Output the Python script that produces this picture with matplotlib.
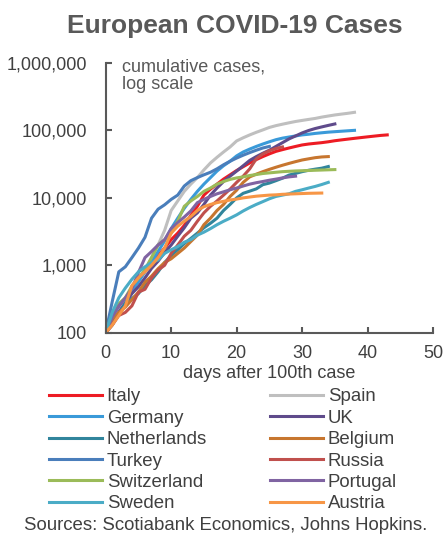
import matplotlib
matplotlib.use("Agg")
import matplotlib.pyplot as plt
from matplotlib.ticker import FuncFormatter

plt.rcParams['font.family'] = ['Liberation Sans', 'DejaVu Sans']

# cumulative cases, one value per day after the 100th case
italy = [100, 150, 220, 310, 420, 600, 820, 1050, 1400, 1800, 2400, 3000, 3900, 5500,
         7500, 11000, 13500, 16000, 19000, 22000, 25500, 29000, 33000, 37000, 41000,
         45000, 49000, 52000, 55000, 58000, 61000, 63000, 64500, 66000, 68000, 70500,
         72500, 74500, 76500, 78500, 80500, 82500, 84500, 86000]
spain = [100, 150, 210, 280, 420, 600, 850, 1300, 2000, 3300, 6500, 9000, 12500, 16000,
         20000, 26000, 33000, 40000, 48000, 57000, 70000, 78000, 86000, 94000, 102000,
         111000, 118000, 124000, 130000, 136000, 141000, 146000, 151000, 158000, 164000,
         170000, 175000, 180000, 186000]
germany = [100, 150, 200, 280, 400, 570, 800, 1100, 1600, 2300, 3500, 5000, 7000, 9500,
           12500, 16000, 20000, 25000, 30000, 35000, 42000, 48000, 53000, 58000, 63000,
           68000, 73000, 77000, 80000, 83000, 86000, 88000, 90500, 92500, 94500, 96000,
           97500, 99000, 100500]
uk = [100, 140, 200, 270, 380, 480, 650, 900, 1150, 1550, 2000, 2700, 3600, 5000, 6000,
      8000, 11000, 14000, 17500, 21000, 25000, 30000, 36000, 41000, 46000, 51000, 58000,
      66000, 75000, 83000, 92000, 100000, 107000, 113000, 119000, 125000]
netherlands = [100, 130, 190, 270, 320, 380, 500, 610, 800, 1100, 1400, 1700, 2100, 2500,
               3000, 3600, 4200, 5000, 6500, 8000, 10000, 11700, 12600, 13600, 15700,
               16600, 18000, 19600, 21800, 23100, 24500, 25700, 26700, 27600, 29200]
belgium = [100, 160, 200, 240, 310, 400, 560, 690, 890, 1100, 1250, 1500, 1800, 2250,
           2800, 4000, 5000, 6500, 8000, 10500, 13000, 17000, 20500, 22500, 24500, 26500,
           28500, 30500, 32500, 34500, 36500, 38000, 39500, 40500, 41000]
turkey = [100, 290, 800, 950, 1300, 1800, 2600, 5000, 6800, 7900, 9500, 11000, 15000,
          18000, 20000, 22000, 24000, 27000, 31000, 35000, 39000, 43000, 47000, 51000,
          55000, 58000]
russia = [100, 130, 180, 200, 250, 400, 440, 650, 850, 1000, 1500, 2000, 2700, 3300,
          4500, 6000, 7500, 9000, 11000, 13500, 17000, 21000, 27000, 38000, 45000, 50000,
          54000, 57000]
switzerland = [100, 190, 270, 330, 490, 650, 860, 1300, 2000, 2400, 3000, 4500, 7500,
               9000, 10500, 12500, 14000, 16000, 17500, 18800, 19800, 20500, 21500, 22200,
               23000, 23500, 24000, 24500, 24800, 25100, 25300, 25500, 25700, 25900,
               26100, 26300]
portugal = [100, 170, 250, 330, 450, 780, 1300, 1600, 2000, 2400, 3500, 4300, 5200, 6400,
            8500, 9500, 10500, 11500, 12300, 13200, 14000, 15000, 16000, 16800, 17500,
            18300, 19000, 19800, 20500, 21000]
sweden = [100, 200, 330, 460, 620, 800, 950, 1100, 1200, 1500, 1700, 1900, 2200, 2400,
          2800, 3100, 3500, 4000, 4500, 5000, 5600, 6400, 7200, 8000, 8800, 9700, 10500,
          11000, 11500, 12500, 13200, 14000, 14800, 15800, 17000]
austria = [100, 130, 180, 250, 500, 650, 800, 1000, 1300, 1800, 3000, 3800, 4500, 5300,
           6500, 7400, 8000, 8500, 8900, 9300, 9600, 10000, 10300, 10600, 10800, 11000,
           11100, 11300, 11400, 11500, 11600, 11700, 11750, 11800]

series = [
    ("Italy", italy, "#ED1C24"),
    ("Spain", spain, "#BFBFBF"),
    ("Germany", germany, "#3A9AD9"),
    ("UK", uk, "#5F4B8B"),
    ("Netherlands", netherlands, "#31859C"),
    ("Belgium", belgium, "#C7762F"),
    ("Turkey", turkey, "#4A7EBB"),
    ("Russia", russia, "#C0504D"),
    ("Switzerland", switzerland, "#9BBB59"),
    ("Portugal", portugal, "#8064A2"),
    ("Sweden", sweden, "#4BACC6"),
    ("Austria", austria, "#F79646"),
]

fig = plt.figure(figsize=(4.46, 5.36), dpi=100)
ax = fig.add_axes([0.237, 0.3793, 0.734, 0.503])

lines = {}
for name, vals, color in series:
    ln, = ax.plot(range(len(vals)), vals, color=color, lw=2.2, label=name)
    lines[name] = ln

ax.set_yscale("log")
ax.set_ylim(100, 1e6)
ax.set_xlim(0, 50)
ax.set_xticks([0, 10, 20, 30, 40, 50])
ax.set_yticks([100, 1000, 10000, 100000, 1000000])
ax.yaxis.set_minor_locator(plt.NullLocator())
ax.yaxis.set_major_formatter(FuncFormatter(lambda v, p: f"{v:,.0f}"))

for s in ["top", "right"]:
    ax.spines[s].set_visible(False)
for s in ["left", "bottom"]:
    ax.spines[s].set_color("#595959")
    ax.spines[s].set_linewidth(1.5)

ax.tick_params(direction="in", length=4, width=1.5, color="#595959",
               labelsize=13, labelcolor="#404040")
ax.tick_params(axis="y", pad=13.5)
ax.tick_params(axis="x", pad=9)
ax.set_xlabel("days after 100th case", fontsize=13, color="#404040", labelpad=2)

fig.text(0.527, 1 - 14 / 536, "European COVID-19 Cases", ha="center", va="top",
         fontsize=19, fontweight="bold", color="#595959")
fig.text(122 / 446, 1 - 58 / 536, "cumulative cases,\nlog scale", ha="left", va="top",
         fontsize=13, color="#595959", linespacing=1.05)

# legend is filled column by column
order = ["Italy", "Germany", "Netherlands", "Turkey", "Switzerland", "Sweden",
         "Spain", "UK", "Belgium", "Russia", "Portugal", "Austria"]
leg = fig.legend([lines[n] for n in order], order, ncol=2, loc="upper left",
                 bbox_to_anchor=(49 / 446, 1 - 388 / 536), frameon=False,
                 fontsize=13.4, handlelength=2.85, handletextpad=0.25,
                 columnspacing=3.4, labelspacing=0.24, borderpad=0, borderaxespad=0)
for t in leg.get_texts():
    t.set_color("#404040")

fig.text(226 / 446, 1 - 526 / 536, "Sources: Scotiabank Economics, Johns Hopkins.",
         ha="center", va="center", fontsize=13.4, color="#404040")

fig.savefig("out.png", dpi=100)
